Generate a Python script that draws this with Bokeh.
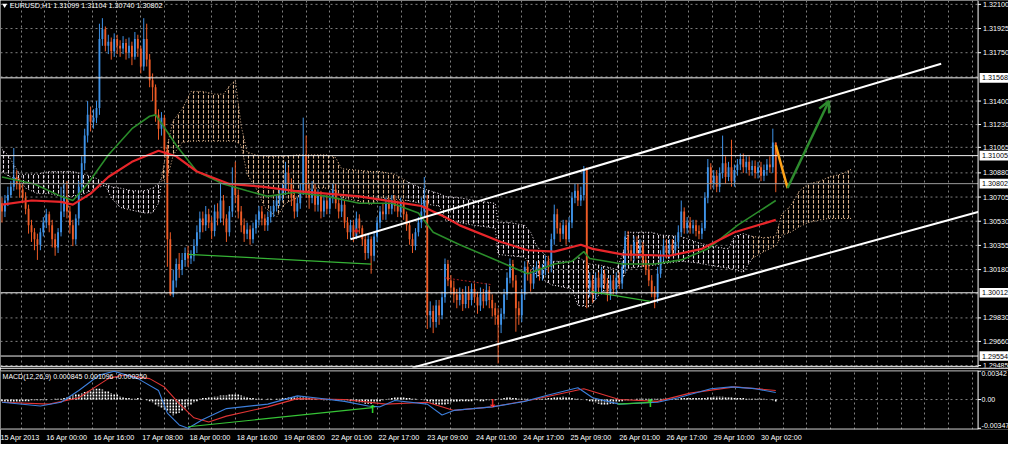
import numpy as np
from bokeh.plotting import figure
from bokeh.layouts import column
from bokeh.models import (Range1d, LinearAxis, FixedTicker, Grid, Span, Label,
                          Arrow, OpenHead, ColumnDataSource)
from bokeh.embed import file_html
from bokeh.resources import INLINE
from bokeh.core.properties import value

# ------------------------------------------------------------------ data
symbol_title = "EURUSD,H1  1.31099 1.31104 1.30740 1.30802"
macd_title = "MACD(12,26,9) 0.000845 0.001096 -0.000250"

# hourly candles, prices in 1/10000 (13066 -> 1.3066); open = previous close
first_open = 13066
close_pts = [
    13060, 13068, 13072, 13078, 13085, 13080, 13076, 13070, 13062, 13050,
    13045, 13040, 13036, 13045, 13052, 13058, 13050, 13040, 13034, 13045,
    13060, 13070, 13060, 13050, 13040, 13055, 13078, 13095, 13115, 13130,
    13125, 13128, 13135, 13185, 13192, 13180, 13183, 13176, 13185, 13180,
    13178, 13182, 13175, 13180, 13172, 13185, 13178, 13165, 13185, 13170,
    13155, 13150, 13130, 13120, 13128, 13105, 13040, 13000, 13010, 13022,
    13018, 13025, 13030, 13026, 13028, 13035, 13045, 13055, 13050, 13058,
    13052, 13046, 13060, 13055, 13068, 13055, 13045, 13060, 13078, 13072,
    13060, 13050, 13044, 13047, 13040, 13048, 13054, 13060, 13055, 13050,
    13056, 13060, 13064, 13068, 13072, 13076, 13088, 13080, 13070, 13060,
    13066, 13075, 13100, 13075, 13070, 13076, 13065, 13072, 13060, 13068,
    13062, 13070, 13076, 13066, 13060, 13065, 13052, 13045, 13050, 13042,
    13055, 13048, 13040, 13030, 13040, 13028, 13042, 13052, 13060, 13058,
    13066, 13062, 13068, 13064, 13060, 13066, 13058, 13050, 13040, 13035,
    13045, 13052, 13060, 13068, 12985, 12988, 12980, 12992, 12985, 12998,
    13022, 13010, 13005, 13000, 12996, 13000, 12993, 13002, 12996, 13004,
    12998, 12992, 13000, 12995, 13003, 12996, 12990, 12985, 12978, 12986,
    13000, 13012, 13022, 13010, 12990, 12985, 13000, 13020, 13015, 13008,
    13016, 13020, 13014, 13018, 13024, 13020, 13040, 13058, 13048, 13044,
    13050, 13040, 13052, 13070, 13075, 13068, 13072, 13090, 13005, 13010,
    13000, 13012, 13005, 13015, 13008, 13000, 13010, 13004, 13012, 13008,
    13020, 13042, 13032, 13028, 13038, 13030, 13035, 13025, 13018, 13010,
    13002, 12998, 13015, 13028, 13035, 13030, 13036, 13032, 13038, 13045,
    13060, 13048, 13052, 13048, 13050, 13046, 13044, 13048, 13070, 13092,
    13080, 13086, 13078, 13088, 13095, 13085, 13092, 13082, 13090, 13094,
    13098, 13092, 13096, 13090, 13093, 13088, 13092, 13086, 13090, 13094,
    13092, 13110, 13080,
]
high_pts = [
    13070, 13072, 13078, 13082, 13106, 13090, 13084, 13080, 13074, 13065,
    13054, 13048, 13044, 13048, 13056, 13062, 13060, 13054, 13044, 13048,
    13078, 13080, 13082, 13064, 13054, 13058, 13082, 13100, 13120, 13140,
    13136, 13134, 13140, 13196, 13200, 13194, 13188, 13186, 13189, 13188,
    13184, 13187, 13185, 13186, 13183, 13190, 13188, 13180, 13200, 13196,
    13174, 13160, 13152, 13134, 13132, 13130, 13108, 13045, 13018, 13026,
    13030, 13030, 13034, 13035, 13032, 13040, 13050, 13060, 13060, 13064,
    13062, 13056, 13065, 13066, 13080, 13072, 13058, 13064, 13092, 13096,
    13076, 13064, 13055, 13052, 13050, 13052, 13058, 13064, 13064, 13058,
    13060, 13064, 13068, 13072, 13076, 13080, 13096, 13092, 13084, 13074,
    13070, 13080, 13128, 13115, 13080, 13082, 13080, 13076, 13075, 13072,
    13072, 13075, 13080, 13080, 13070, 13070, 13068, 13056, 13054, 13054,
    13060, 13058, 13050, 13044, 13044, 13042, 13046, 13056, 13064, 13066,
    13070, 13070, 13072, 13072, 13068, 13070, 13068, 13060, 13053, 13044,
    13048, 13056, 13070, 13085, 13072, 12995, 12992, 12996, 12996, 13002,
    13026, 13025, 13014, 13010, 13004, 13005, 13004, 13006, 13006, 13008,
    13008, 13002, 13005, 13004, 13008, 13006, 13000, 12994, 12990, 12990,
    13004, 13016, 13026, 13025, 13014, 12995, 13004, 13024, 13024, 13018,
    13020, 13024, 13024, 13022, 13028, 13028, 13044, 13065, 13062, 13052,
    13054, 13054, 13056, 13074, 13080, 13080, 13078, 13093, 13092, 13016,
    13014, 13016, 13016, 13020, 13018, 13012, 13014, 13014, 13016, 13016,
    13024, 13046, 13046, 13036, 13042, 13042, 13040, 13038, 13028, 13022,
    13014, 13006, 13020, 13032, 13040, 13040, 13040, 13040, 13042, 13050,
    13068, 13063, 13056, 13056, 13054, 13054, 13050, 13052, 13074, 13098,
    13095, 13090, 13090, 13092, 13115, 13100, 13096, 13112, 13094, 13098,
    13102, 13102, 13100, 13100, 13097, 13097, 13096, 13096, 13094, 13098,
    13100, 13120, 13110,
]
low_pts = [
    13052, 13056, 13064, 13070, 13075, 13076, 13070, 13066, 13058, 13044,
    13038, 13032, 13025, 13032, 13042, 13048, 13045, 13034, 13028, 13030,
    13042, 13056, 13055, 13044, 13035, 13036, 13050, 13074, 13090, 13110,
    13118, 13120, 13124, 13130, 13180, 13176, 13174, 13170, 13172, 13174,
    13172, 13174, 13170, 13171, 13166, 13170, 13172, 13160, 13162, 13165,
    13150, 13140, 13125, 13112, 13115, 13100, 13020, 12999, 12998, 13005,
    13012, 13014, 13020, 13020, 13022, 13024, 13030, 13040, 13045, 13046,
    13048, 13040, 13042, 13050, 13052, 13050, 13038, 13042, 13056, 13066,
    13055, 13045, 13038, 13040, 13036, 13037, 13044, 13050, 13050, 13046,
    13046, 13052, 13056, 13060, 13064, 13068, 13072, 13074, 13064, 13055,
    13056, 13062, 13072, 13070, 13062, 13066, 13060, 13060, 13055, 13056,
    13058, 13058, 13066, 13062, 13055, 13056, 13048, 13040, 13040, 13038,
    13040, 13044, 13035, 13025, 13026, 13015, 13024, 13038, 13048, 13054,
    13054, 13058, 13058, 13060, 13056, 13056, 13054, 13046, 13036, 13030,
    13032, 13042, 13048, 13056, 12975, 12976, 12972, 12976, 12978, 12982,
    12994, 13006, 13000, 12994, 12990, 12992, 12988, 12990, 12990, 12992,
    12994, 12986, 12988, 12990, 12992, 12990, 12984, 12978, 12950, 12972,
    12982, 12996, 13008, 13005, 12973, 12978, 12980, 12996, 13010, 13002,
    13004, 13012, 13010, 13010, 13014, 13016, 13016, 13036, 13044, 13038,
    13040, 13036, 13038, 13048, 13066, 13064, 13064, 13068, 12990, 12998,
    12994, 12996, 13000, 13000, 13004, 12995, 12996, 13000, 13000, 13004,
    13004, 13016, 13028, 13024, 13024, 13026, 13026, 13020, 13014, 13006,
    12998, 12990, 12994, 13012, 13024, 13026, 13026, 13028, 13028, 13034,
    13042, 13044, 13044, 13044, 13044, 13042, 13040, 13040, 13046, 13066,
    13076, 13076, 13074, 13074, 13084, 13080, 13082, 13078, 13078, 13086,
    13090, 13088, 13088, 13086, 13086, 13084, 13084, 13082, 13082, 13086,
    13088, 13088, 13074,
]

# moving averages (bar index, price in 1/10000)
ma_red_bar = [0, 10, 20, 24, 30, 36, 44, 53, 59, 66, 77, 88, 99, 121, 133, 142, 150, 155,
              169, 178, 187, 196, 200, 210, 226, 237, 248, 262]
ma_red_val = [13065, 13068, 13067, 13065, 13073, 13085, 13096, 13104, 13100, 13089, 13080,
              13078, 13075, 13071, 13067, 13064, 13056, 13050, 13038, 13032, 13031, 13036,
              13033, 13029, 13028, 13033, 13045, 13054]
ma_green_bar = [0, 11, 20, 24, 29, 36, 44, 50, 52, 54, 59, 66, 75, 83, 90, 99, 110, 121, 132,
                141, 146, 155, 166, 178, 187, 193, 197, 199, 210, 221, 230, 239, 249, 262]
ma_green_val = [13085, 13080, 13071, 13068, 13080, 13101, 13120, 13129, 13130, 13124, 13108,
                13089, 13080, 13075, 13071, 13074, 13071, 13066, 13066, 13059, 13045, 13036,
                13026, 13015, 13022, 13024, 13031, 13026, 13022, 13022, 13025, 13033, 13050,
                13068]

# Ichimoku cloud (bar index incl. 26-bar forward shift), upper / lower edge, kind
cloud_bar = [0, 2, 4, 6, 8, 12, 16, 20, 24, 28, 32, 35, 37, 40, 44, 48, 51, 53, 54,
             54, 56, 58, 61, 64, 68, 72, 75, 77, 79, 81, 83, 86, 89, 93, 96, 100, 105, 110,
             113, 115, 120, 125, 128, 133, 137,
             137, 142, 148, 150, 155, 160, 167, 168, 172, 177, 179, 181, 186, 193, 195, 199,
             203, 208, 210, 212, 216, 220, 223, 230, 235, 240, 246, 248, 251, 254,
             254, 258, 262, 264, 267, 270, 273, 277, 280, 284, 288]
cloud_top = [13105, 13101, 13094, 13087, 13087, 13087, 13089, 13089, 13089, 13087, 13084,
             13080, 13078, 13077, 13075, 13075, 13077, 13080, 13084,
             13084, 13108, 13126, 13134, 13147, 13147, 13145, 13145, 13151, 13155, 13122,
             13103, 13101, 13100, 13100, 13100, 13101, 13101, 13101, 13099, 13091, 13090,
             13089, 13089, 13087, 13082,
             13082, 13077, 13073, 13071, 13070, 13068, 13066, 13052, 13052, 13050, 13045,
             13035, 13024, 13024, 13027, 13022, 13021, 13018, 13028, 13045, 13045, 13045,
             13043, 13042, 13038, 13035, 13033, 13042, 13044, 13042,
             13042, 13041, 13042, 13058, 13064, 13075, 13080, 13082, 13085, 13087, 13091]
cloud_bot = [13089, 13086, 13084, 13083, 13077, 13073, 13073, 13071, 13071, 13073, 13077,
             13079, 13070, 13063, 13061, 13059, 13059, 13066, 13082,
             13082, 13084, 13101, 13110, 13111, 13111, 13111, 13111, 13111, 13111, 13108,
             13087, 13077, 13063, 13056, 13066, 13070, 13077, 13077, 13075, 13070, 13068,
             13065, 13070, 13069, 13068,
             13068, 13066, 13064, 13054, 13052, 13050, 13048, 13029, 13028, 13027, 13021,
             13014, 13007, 13004, 12992, 12991, 13002, 13004, 13011, 13019, 13020, 13021,
             13022, 13024, 13023, 13021, 13019, 13018, 13016, 13026,
             13026, 13031, 13035, 13043, 13045, 13049, 13052, 13054, 13055, 13055, 13055]
cloud_kind = ["B"] * 19 + ["A"] * 26 + ["B"] * 30 + ["A"] * 11

# MACD panel (values in 1/10000)
macd_bar = [0, 13, 20, 26, 33, 38, 46, 53, 56, 60, 63, 68, 76, 90, 100, 106, 116, 124, 128,
            133, 144, 149, 153, 166, 177, 185, 195, 200, 209, 222, 229, 240, 247, 255, 262]
macd_val = [-3.3, -7.7, -3.3, 10.9, 29.5, 34.2, 25.2, 10.9, -16.4, -30.6, -34.7, -24.1,
            -10.9, -5.5, 4.4, 2.2, -2.2, -7.7, -8.8, -1.1, -5.5, -18.6, -13.1, -8.8, -2.2,
            5.5, 14.2, 2.2, -5.5, -3.3, 2.2, 13.1, 15.3, 13.1, 8.45]
signal_bar = [0, 16, 26, 36, 41, 50, 55, 60, 65, 70, 76, 90, 100, 116, 130, 144, 153, 166,
              180, 197, 209, 222, 233, 248, 262]
signal_val = [-3.3, -5.5, 2.2, 25.2, 29.5, 25.2, 15, -5, -22, -27, -20, -8.8, 1.1, 0, -5.5,
              -3.3, -13.1, -8.8, 0, 13.1, 0, -2.2, 7.7, 15.3, 10.96]
hist_val = [
    -2, -3, -3, -4, -4, -3, -3, -2, -2, -2, -1, -1, -1, -1,
    -1, -1, 0, 0, 1, 1, 1,
    2, 3, 4, 5, 6, 7, 8, 9,
    10, 11, 12, 13, 13, 12,
    11, 10, 8, 7, 6, 4, 3, 2,
    2, 1, 1, 2, 1, 0,
    -1, -2, -4, -6, -8, -10, -12, -14, -16,
    -19,
    -18, -16, -14, -11, -8, -6, -4, -2,
    1, 2, 2, 3, 3, 4, 4, 5, 5, 5, 6, 6, 6, 7,
    5, 4, 3, 2, 2, 1,
    1, 1, 0, 1, 1, 0, 1, 1, 2, 2,
    3, 3, 4, 4, 4, 3, 3,
    2, 1, 1, 0, 0, -1, -1, -1, 0, -1, -1, -1, -1, -1,
    -2, -2, -3, -4, -4, -5, -5, -5, -4, -3, -2,
    -1, 0, 1, 2, 3, 3, 3, 3, 2, 2, 1,
    1, 0, 0,
    -1, -2, -4, -5, -6, -7, -7, -6,
    -5, -4, -3, -3, -2, -2, -2, -2, -2, -1, -1, -2, -2, -1, -1, -1, -1,
    0, 1, 2, 3, 3,
    2, 2, 1, 1, 1, 1, 0, 0, 1, 1, 1, 1,
    2, 2, 3, 3, 3, 4, 3, 3, 2,
    1, 1, 0, 0, -1,
    -2, -3, -4, -5, -6, -6, -6, -5, -5, -4, -3,
    -2, -1, -1, 0, 0, 1, 1, 1, 1, 1, 1, 1, 1, 1, 1, 1, 1, 1, 1,
    1, 2, 2, 2, 2, 2, 2, 2, 2, 2, 3,
    3, 4, 4, 4, 4, 3,
    3, 3, 2, 2, 2, 2, 1, 1, 1, 1, 1, 1, 1, 0, 0, -1, -2.5,
]

# horizontal levels and drawn objects (bar index, price)
level_white = [1.31568, 1.31005, 1.30012, 1.29554]
level_bid = 1.30802
level_boxes = [1.31568, 1.31005, 1.30802, 1.30012, 1.29554]
channel_up_bar = [118, 318]
channel_up_price = [1.3040, 1.3167]
channel_low_bar = [139, 336]
channel_low_price = [1.2947, 1.3063]
trend_green_bar = [63, 125]
trend_green_price = [1.3029, 1.3022]
trend_green2_bar = [199.5, 219.5]
trend_green2_price = [1.3002, 1.2995]
trend_red_bar = [150, 166]
trend_red_price = [1.3012, 1.3007]
drop_bar = [262, 266]
drop_price = [1.3108, 1.3077]
target_bar = [266, 280]
target_price = [1.3077, 1.3140]
macd_div_bar = [63, 125.5]
macd_div_val = [-32.8, -9.8]
macd_div2_bar = [208.5, 219.5]
macd_div2_val = [-5.5, -3.3]
sig_up_bar = [125.5, 219.5]
sig_up_val = [-11.5, -5.0]
sig_dn_bar = [166]
sig_dn_val = [-4.5]

# axes
price_ticks = [1.32100, 1.31925, 1.31750, 1.31400, 1.31230, 1.31065, 1.30880, 1.30705,
               1.30530, 1.30355, 1.30180, 1.29830, 1.29660, 1.29485]
price_grid_extra = [1.31575, 1.30005]
macd_ticks = [0.00342, 0.0, -0.00347]
macd_tick_labels = ["0.00342", "0.00", "-0.00347"]
time_labels = ["15 Apr 2013", "16 Apr 00:00", "16 Apr 16:00", "17 Apr 08:00", "18 Apr 00:00",
               "18 Apr 16:00", "19 Apr 08:00", "22 Apr 01:00", "22 Apr 17:00", "23 Apr 09:00",
               "24 Apr 01:00", "24 Apr 17:00", "25 Apr 09:00", "26 Apr 01:00", "26 Apr 17:00",
               "29 Apr 10:00", "30 Apr 02:00"]
time_bars = [-3.5, 14.5, 30.5, 47, 63, 79, 95, 111, 127, 143.5, 160, 176, 192, 208.5, 224.5,
             240.5, 256.5]

# ------------------------------------------------------------------ style / layout
W = 1008
H_MAIN = 368
H_MACD = 76
FONT = "Liberation Sans"
FS = "7.2px"
BG = "black"
GRID = "#8e8e8e"
BULL = "#3f93e8"
BEAR = "#ee5b26"
SANDY = "#dcb28c"
THISTLE = "#e6dce6"
PIP = 1e-4

xr = Range1d(-0.5, 340.8)          # bars; the price scale sits right of AXIS_X
AXIS_X = 330.5
ppb = W / (xr.end - xr.start)       # pixels per bar


def px(n):
    """n screen pixels expressed in bar units"""
    return n / ppb


def strip_default_grids(fig):
    fig.center = [r for r in fig.center if not isinstance(r, Grid)]


grid_kw = dict(line_color=GRID, line_dash="2 3", line_width=1, line_alpha=0.9)

major_t = time_bars[1:] + [time_bars[-1] + 16 * k for k in range(1, 6)]
vgrid = major_t + [(a + b) / 2 for a, b in zip(major_t[:-1], major_t[1:])] + [major_t[0] - 8]
vgrid = [v for v in vgrid if v < AXIS_X - 0.5]

# ------------------------------------------------------------------ main panel
P_LO, P_HI = 1.29471, 1.32128
p = figure(width=W, height=H_MAIN, x_range=xr, y_range=Range1d(P_LO, P_HI),
           output_backend="svg", toolbar_location=None,
           x_axis_location=None, y_axis_location=None,
           min_border_left=0, min_border_right=0, min_border_top=0, min_border_bottom=1,
           background_fill_color=BG, border_fill_color=BG, outline_line_color=None)
strip_default_grids(p)
p.add_layout(Grid(dimension=0, ticker=FixedTicker(ticks=vgrid), grid_line_color=GRID,
                  grid_line_dash="2 3", grid_line_width=1, grid_line_alpha=0.9))
hgrid = price_ticks + price_grid_extra
p.segment(x0=[xr.start] * len(hgrid), x1=[AXIS_X] * len(hgrid), y0=hgrid, y1=hgrid, **grid_kw)

# ichimoku cloud, split into runs of the same kind
runs = []
for b, t, lo, k in zip(cloud_bar, cloud_top, cloud_bot, cloud_kind):
    if not runs or runs[-1][0] != k:
        runs.append((k, [], [], []))
    runs[-1][1].append(b)
    runs[-1][2].append(t * PIP)
    runs[-1][3].append(lo * PIP)
for k, xs, tops, bots in runs:
    col = SANDY if k == "A" else THISTLE
    p.varea(x=xs, y1=bots, y2=tops, fill_color=None, hatch_pattern="vertical_dash",
            hatch_color=col, hatch_scale=5, hatch_weight=1.1, hatch_alpha=1.0)
    p.line(xs, tops, line_color=col, line_dash="1 2", line_width=1)
    p.line(xs, bots, line_color=col, line_dash="1 2", line_width=1)

# candles
n = len(close_pts)
opens = [first_open] + close_pts[:-1]
src = ColumnDataSource(dict(
    i=list(range(n)),
    h=[v * PIP for v in high_pts[:n]],
    l=[v * PIP for v in low_pts[:n]],
    top=[max(a, b) * PIP for a, b in zip(opens, close_pts)],
    bot=[min(a, b) * PIP for a, b in zip(opens, close_pts)],
    col=[BULL if c >= o else BEAR for o, c in zip(opens, close_pts)],
))
p.segment(x0="i", y0="l", x1="i", y1="h", line_color="col", line_width=1, source=src)
p.vbar(x="i", width=0.62, top="top", bottom="bot", fill_color="col", line_color=None, source=src)

# moving averages
p.line(ma_green_bar, [v * PIP for v in ma_green_val], line_color="#2a8c2a", line_width=1.6)
p.line(ma_red_bar, [v * PIP for v in ma_red_val], line_color="#e8262a", line_width=2.2)

# horizontal levels (stop at the price scale)
p.segment(x0=[xr.start] * len(level_white), x1=[AXIS_X] * len(level_white),
          y0=level_white, y1=level_white, line_color="#f0f0f0", line_width=1)
p.segment(x0=[xr.start], x1=[AXIS_X], y0=[level_bid], y1=[level_bid],
          line_color="#9a9a9a", line_width=1)
p.segment(x0=[xr.start], x1=[AXIS_X], y0=[1.29479], y1=[1.29479],
          line_color="#e8e8e8", line_width=1)

# drawn objects
p.line(channel_up_bar, channel_up_price, line_color="white", line_width=2)
p.line(channel_low_bar, channel_low_price, line_color="white", line_width=2)
p.line(trend_green_bar, trend_green_price, line_color="#36b436", line_width=1.3)
p.line(trend_green2_bar, trend_green2_price, line_color="#36b436", line_width=1.3)
p.line(trend_red_bar, trend_red_price, line_color="#b02020", line_width=1, line_dash="2 2")
p.scatter([120], [1.3046], marker="cross", size=5, line_color="#e02020", line_width=1.5)
p.line(drop_bar, drop_price, line_color="#ffa31a", line_width=2.5)
p.add_layout(Arrow(end=OpenHead(size=11, line_color="#2e8b2e", line_width=2.5),
                   x_start=target_bar[0], y_start=target_price[0],
                   x_end=target_bar[1], y_end=target_price[1],
                   line_color="#2e8b2e", line_width=2.5))

# price scale drawn in the right strip of the frame
p.quad(left=[AXIS_X], right=[xr.end + 1], bottom=[P_LO - 1], top=[P_HI + 1],
       fill_color=BG, line_color=None)
p.add_layout(Span(location=AXIS_X, dimension="height", line_color="white", line_width=1))
p.segment(x0=[AXIS_X] * len(price_ticks), x1=[AXIS_X + px(3)] * len(price_ticks),
          y0=price_ticks, y1=price_ticks, line_color="white", line_width=1)
p.text(x=[AXIS_X + px(5)] * (len(price_ticks) - 1), y=price_ticks[:-1],
       text=[f"{t:.5f}" for t in price_ticks[:-1]], text_color="white",
       text_font=value(FONT), text_font_size=FS, text_align="left", text_baseline="middle")
p.text(x=[AXIS_X + px(5)], y=[P_LO], text=[f"{price_ticks[-1]:.5f}"], text_color="white",
       text_font=value(FONT), text_font_size="7px", text_align="left", text_baseline="bottom")
BOX_H = 4.8 * (P_HI - P_LO) / (H_MAIN - 1)
p.quad(left=[AXIS_X + px(1.5)] * len(level_boxes), right=[xr.end + 1] * len(level_boxes),
       bottom=[lv - BOX_H for lv in level_boxes], top=[lv + BOX_H for lv in level_boxes],
       fill_color="white", line_color=None)
p.text(x=[AXIS_X + px(4)] * len(level_boxes), y=level_boxes,
       text=[f"{lv:.5f}" for lv in level_boxes], text_color="black",
       text_font=value(FONT), text_font_size=FS, text_align="left", text_baseline="middle")

# title
p.scatter([0.9], [1.32094], marker="inverted_triangle", size=5, fill_color="white", line_color=None)
p.add_layout(Label(x=2.6, y=1.32094, text=symbol_title, text_color="white", text_font=FONT,
                   text_font_size="7.2px", text_baseline="middle", text_align="left"))

# ------------------------------------------------------------------ MACD panel
M_LO, M_HI = -0.00361, 0.00350
q = figure(width=W, height=H_MACD, x_range=xr, y_range=Range1d(M_LO, M_HI),
           output_backend="svg", toolbar_location=None,
           x_axis_location=None, y_axis_location=None,
           min_border_left=0, min_border_right=0, min_border_top=2, min_border_bottom=12,
           background_fill_color=BG, border_fill_color=BG, outline_line_color=None)
strip_default_grids(q)
q.add_layout(Grid(dimension=0, ticker=FixedTicker(ticks=vgrid), grid_line_color=GRID,
                  grid_line_dash="2 3", grid_line_width=1, grid_line_alpha=0.9))
q.segment(x0=[xr.start], x1=[AXIS_X], y0=[0.0], y1=[0.0], **grid_kw)
q.segment(x0=[xr.start, xr.start], x1=[AXIS_X, AXIS_X], y0=[0.00346, -0.00356],
          y1=[0.00346, -0.00356], line_color="#e8e8e8", line_width=1)

hsrc = ColumnDataSource(dict(i=list(range(len(hist_val))), h=[v * PIP for v in hist_val]))
q.segment(x0="i", y0=0, x1="i", y1="h", line_color="white", line_width=1.6,
          line_dash="2 1", source=hsrc)
q.line(signal_bar, [v * PIP for v in signal_val], line_color="#e03434", line_width=1.1)
q.line(macd_bar, [v * PIP for v in macd_val], line_color="#3c7fdc", line_width=1.1)
q.line(macd_div_bar, [v * PIP for v in macd_div_val], line_color="#36c436", line_width=1.2)
q.line(macd_div2_bar, [v * PIP for v in macd_div2_val], line_color="#36c436", line_width=1.2)
q.text(x=sig_up_bar, y=[v * PIP for v in sig_up_val], text=["\u2191"] * len(sig_up_bar),
       text_color="#33e033", text_font=value("DejaVu Sans"), text_font_size="11px",
       text_font_style="bold", text_align="center", text_baseline="middle")
q.text(x=sig_dn_bar, y=[v * PIP for v in sig_dn_val], text=["\u2193"] * len(sig_dn_bar),
       text_color="#ff3030", text_font=value("DejaVu Sans"), text_font_size="11px",
       text_font_style="bold", text_align="center", text_baseline="middle")

q.add_layout(Label(x=0.2, y=0.00272, text=macd_title, text_color="white", text_font=FONT,
                   text_font_size="7px", text_baseline="middle", text_align="left"))

# MACD value scale
q.add_layout(Span(location=AXIS_X, dimension="height", line_color="white", line_width=1))
q.segment(x0=[AXIS_X] * 3, x1=[AXIS_X + px(3)] * 3, y0=macd_ticks, y1=macd_ticks,
          line_color="white", line_width=1)
for t, lab, base in zip(macd_ticks, macd_tick_labels, ["top", "middle", "bottom"]):
    q.text(x=[AXIS_X + px(3.5)], y=[t], text=[lab], text_color="white",
           text_font=value(FONT), text_font_size="7px", text_align="left", text_baseline=base)

# time axis: MT4 labels start at their tick, so centre each label half a label-width right
CW = {" ": 0.278, ":": 0.278, "A": 0.667, "p": 0.556, "r": 0.333}


def text_w(s, size=7.2):
    return sum(CW.get(ch, 0.556) for ch in s) * size


label_pos = [b + px(text_w(t) / 2 + 1.5) for b, t in zip(time_bars, time_labels)]
ba = LinearAxis(ticker=FixedTicker(ticks=label_pos),
                major_label_overrides=dict(zip(label_pos, time_labels)),
                axis_line_color=None, major_tick_line_color=None, major_tick_out=0,
                major_tick_in=0, minor_tick_line_color=None,
                major_label_text_color="white", major_label_text_font=FONT,
                major_label_text_font_size=FS, major_label_standoff=3)
q.add_layout(ba, "below")

layout = column(p, q)
open("out.html", "w").write(file_html(layout, INLINE, "EURUSD H1"))
